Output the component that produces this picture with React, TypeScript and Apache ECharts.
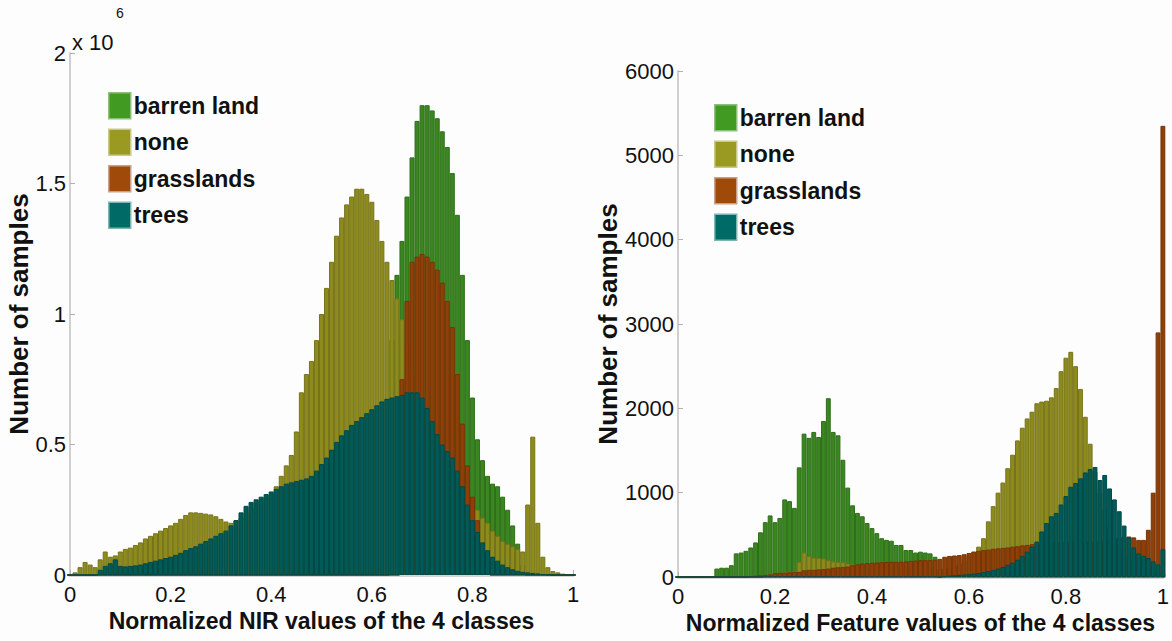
import React, { useEffect, useRef } from 'react';
import * as echarts from 'echarts';

const seriesNames = ['barren land', 'none', 'grasslands', 'trees'];
const barColors = ['#3a8620', '#8e8b1d', '#8f3f08', '#005a57'];
const barBorders = ['#2f6e18', '#76731a', '#773406', '#004a48'];
const legendColors = ['#419a22', '#9a9a22', '#a04a0a', '#006a66'];
const legendBorders = ['#8fbf80', '#c9c98a', '#c9a088', '#80b5b2'];

// bin centres 0, 0.01, ..., 1
const binCenters = Array.from({ length: 101 }, (_, i) => String(i / 100));
const xTickLabels = ['0', '0.2', '0.4', '0.6', '0.8', '1'];
const leftYTickLabels = ['0', '0.5', '1', '1.5', '2'];
const rightYTickLabels = ['0', '1000', '2000', '3000', '4000', '5000', '6000'];

// Left panel: NIR values (x 10^6 samples)
const leftBarren = [
  0, 0, 0, 0, 0, 0, 0, 0, 0, 0,
  0, 0, 0, 0, 0, 0, 0, 0, 0, 0,
  0, 0, 0, 0, 0, 0, 0, 0, 0, 0,
  0, 0, 0, 0, 0, 0, 0, 0, 0, 0,
  0, 0, 0, 0, 0, 0, 0, 0, 0, 0,
  0, 0, 0, 0, 0, 0, 0, 0, 0, 0,
  0, 0, 0, 0, 0.9, 1.15, 1.28, 1.45, 1.6, 1.74,
  1.8, 1.8, 1.78, 1.75, 1.7, 1.64, 1.54, 1.38, 1.15, 0.9,
  0.68, 0.52, 0.44, 0.38, 0.35, 0.34, 0.3, 0.25, 0.19, 0.12,
  0.04, 0, 0, 0, 0, 0, 0, 0, 0, 0, 0,
];
const leftNone = [
  0, 0.01, 0.03, 0.05, 0.04, 0.03, 0.06, 0.09, 0.07, 0.075,
  0.09, 0.1, 0.105, 0.115, 0.125, 0.14, 0.15, 0.16, 0.17, 0.18,
  0.19, 0.2, 0.215, 0.23, 0.24, 0.24, 0.238, 0.235, 0.232, 0.225,
  0.215, 0.205, 0.2, 0.21, 0.22, 0.24, 0.26, 0.28, 0.29, 0.3,
  0.31, 0.34, 0.38, 0.42, 0.46, 0.55, 0.7, 0.77, 0.82, 0.9,
  1.0, 1.1, 1.2, 1.3, 1.37, 1.42, 1.45, 1.48, 1.48, 1.46,
  1.43, 1.36, 1.28, 1.2, 1.13, 1.06, 0.98, 0.88, 0.78, 0.68,
  0.6, 0.52, 0.46, 0.41, 0.37, 0.34, 0.32, 0.3, 0.28, 0.27,
  0.26, 0.25, 0.22, 0.2, 0.17, 0.15, 0.13, 0.12, 0.11, 0.1,
  0.09, 0.27, 0.53, 0.2, 0.07, 0.03, 0.015, 0.01, 0.005, 0, 0,
];
const leftGrass = [
  0, 0, 0, 0, 0, 0, 0, 0, 0, 0,
  0, 0, 0, 0, 0, 0, 0, 0, 0, 0,
  0, 0, 0, 0, 0, 0, 0, 0, 0, 0,
  0, 0, 0, 0, 0, 0, 0, 0, 0, 0,
  0, 0, 0, 0, 0, 0, 0, 0, 0, 0,
  0, 0, 0, 0, 0, 0, 0, 0, 0, 0,
  0, 0, 0, 0, 0, 0, 0.75, 1.05, 1.2, 1.22,
  1.23, 1.22, 1.2, 1.17, 1.12, 1.05, 0.95, 0.77, 0.58, 0.42,
  0.3, 0.21, 0.1, 0.03, 0, 0, 0, 0, 0, 0,
  0, 0, 0, 0, 0, 0, 0, 0, 0, 0, 0,
];
const leftTrees = [
  0, 0, 0, 0, 0, 0, 0.02, 0.035, 0.045, 0.06,
  0.035, 0.033, 0.035, 0.037, 0.04, 0.045, 0.05, 0.055, 0.06, 0.065,
  0.07, 0.077, 0.085, 0.095, 0.103, 0.11, 0.12, 0.13, 0.14, 0.15,
  0.16, 0.17, 0.19, 0.21, 0.24, 0.265, 0.28, 0.29, 0.3, 0.31,
  0.32, 0.33, 0.34, 0.35, 0.355, 0.36, 0.365, 0.37, 0.38, 0.4,
  0.425, 0.45, 0.48, 0.51, 0.535, 0.555, 0.575, 0.59, 0.605, 0.62,
  0.635, 0.65, 0.665, 0.675, 0.68, 0.685, 0.69, 0.7, 0.7, 0.7,
  0.68, 0.64, 0.59, 0.54, 0.5, 0.475, 0.45, 0.4, 0.34, 0.27,
  0.21, 0.165, 0.125, 0.095, 0.07, 0.055, 0.04, 0.03, 0.022, 0.016,
  0.012, 0.01, 0.008, 0.006, 0.004, 0.002, 0, 0, 0, 0, 0,
];

// Right panel: Feature values (samples)
const rightBarren = [
  0, 0, 0, 0, 0, 0, 0, 0, 100, 110,
  110, 140, 280, 290, 310, 350, 410, 530, 650, 730,
  650, 700, 920, 900, 820, 1300, 1700, 1650, 1720, 1660,
  1850, 2120, 1720, 1680, 1390, 1060, 850, 760, 720, 640,
  580, 520, 460, 440, 430, 380, 380, 320, 320, 290,
  300, 290, 280, 240, 0, 0, 0, 0, 0, 0,
  0, 0, 0, 0, 0, 0, 0, 0, 0, 0,
  0, 0, 0, 0, 0, 0, 0, 0, 0, 0,
  0, 0, 0, 0, 0, 0, 0, 0, 0, 0,
  0, 0, 0, 0, 0, 0, 0, 0, 0, 0, 0,
];
const rightNone = [
  0, 0, 0, 0, 0, 0, 0, 0, 0, 0,
  0, 0, 0, 0, 0, 0, 0, 0, 20, 30,
  40, 50, 55, 60, 70, 180, 290, 250, 230, 225,
  220, 200, 185, 180, 175, 160, 150, 140, 130, 120,
  110, 100, 100, 100, 100, 100, 100, 100, 100, 100,
  100, 100, 100, 100, 100, 100, 110, 130, 160, 200,
  250, 300, 360, 460, 660, 840, 1000, 1120, 1290, 1450,
  1620, 1770, 1880, 1960, 2060, 2080, 2090, 2130, 2240, 2440,
  2600, 2670, 2500, 2230, 1900, 1580, 1250, 1000, 800, 600,
  450, 350, 280, 220, 180, 150, 120, 100, 80, 60, 40,
];
const rightGrass = [
  0, 0, 0, 0, 0, 0, 0, 0, 0, 0,
  0, 0, 0, 0, 0, 10, 15, 20, 25, 30,
  45, 50, 50, 55, 60, 60, 80, 85, 85, 90,
  95, 100, 110, 115, 120, 125, 140, 150, 160, 165,
  170, 172, 175, 178, 180, 180, 182, 185, 190, 195,
  200, 200, 200, 205, 215, 240, 250, 255, 260, 270,
  285, 300, 310, 320, 325, 335, 340, 345, 350, 360,
  365, 375, 380, 390, 400, 400, 410, 420, 420, 420,
  420, 420, 420, 420, 420, 420, 420, 430, 440, 450,
  460, 470, 480, 480, 470, 440, 440, 560, 1000, 2900, 5350,
];
const rightTrees = [
  0, 0, 0, 0, 0, 0, 0, 0, 0, 0,
  0, 0, 0, 0, 0, 0, 0, 0, 0, 0,
  0, 0, 0, 0, 0, 0, 0, 0, 0, 0,
  0, 0, 0, 0, 0, 0, 0, 0, 0, 0,
  0, 0, 0, 0, 0, 0, 0, 0, 0, 0,
  0, 0, 0, 0, 0, 10, 15, 20, 25, 30,
  35, 40, 47, 60, 70, 83, 100, 120, 145, 170,
  205, 250, 300, 360, 420, 540, 640, 720, 760, 860,
  960, 1070, 1115, 1170, 1240, 1280, 1305, 1150, 1210, 1050,
  920, 780, 610, 470, 350, 280, 250, 225, 185, 150, 330,
];

const leftData = [leftBarren, leftNone, leftGrass, leftTrees];
const rightData = [rightBarren, rightNone, rightGrass, rightTrees];

const FONT = '"Liberation Sans", Arial, Helvetica, sans-serif';
const TEXT = '#111111';

function makeXAxis(gridIndex: number, name: string) {
  return {
    type: 'category',
    gridIndex,
    data: binCenters,
    boundaryGap: false,
    axisLine: { show: true, lineStyle: { color: '#d6d6d6', width: 3 } },
    axisTick: { show: true, inside: true, interval: 19, length: 5, lineStyle: { color: '#b0b0b0', width: 1 } },
    axisLabel: {
      interval: 19,
      formatter: (v: string, i: number) => xTickLabels[Math.round(i / 20)] ?? v,
      color: TEXT,
      fontSize: 22,
      fontFamily: FONT,
      margin: 8,
    },
    splitLine: { show: false },
    name,
    nameLocation: 'middle',
    nameGap: 34,
    nameTextStyle: { color: TEXT, fontSize: 23, fontWeight: 'bold', fontFamily: FONT },
  };
}

function makeYAxis(gridIndex: number, max: number, interval: number, labels: string[], nameGap: number) {
  return {
    type: 'value',
    gridIndex,
    min: 0,
    max,
    interval,
    axisLine: { show: true, lineStyle: { color: '#d0d0d0', width: 2 } },
    axisTick: { show: true, inside: true, length: 5, lineStyle: { color: '#b0b0b0', width: 1 } },
    axisLabel: {
      formatter: (v: number) => labels[Math.round(v / interval)] ?? String(v),
      color: TEXT,
      fontSize: 22,
      fontFamily: FONT,
      margin: 4,
    },
    splitLine: { show: false },
    name: 'Number of samples',
    nameLocation: 'middle',
    nameRotate: 90,
    nameGap,
    nameTextStyle: { color: TEXT, fontSize: 26, fontWeight: 'bold', fontFamily: FONT },
  };
}

function makeSeries(data: number[][], axisIndex: number) {
  return seriesNames.map((name, k) => ({
    name,
    type: 'bar',
    xAxisIndex: axisIndex,
    yAxisIndex: axisIndex,
    data: data[k],
    barWidth: '100%',
    barGap: '-100%',
    barCategoryGap: '0%',
    clip: true,
    itemStyle: { color: barColors[k], borderColor: barBorders[k], borderWidth: 1 },
    emphasis: { disabled: true },
  }));
}

const legendData = seriesNames.map((name, k) => ({
  name,
  itemStyle: { color: legendColors[k], borderColor: legendBorders[k], borderWidth: 1.5 },
}));

function makeLegend(left: number, top: number) {
  return {
    orient: 'vertical',
    left,
    top,
    itemWidth: 22,
    itemHeight: 26,
    itemGap: 9,
    icon: 'rect',
    selectedMode: false,
    data: legendData,
    textStyle: { color: TEXT, fontSize: 23, fontWeight: 'bold', fontFamily: FONT, padding: [0, 0, 0, -2] },
  };
}

export default function App() {
  const ref = useRef<HTMLDivElement>(null);
  useEffect(() => {
    if (!ref.current) return;
    const chart = echarts.init(ref.current, undefined, { renderer: 'svg' });
    chart.setOption({
      animation: false,
      backgroundColor: '#fdfdfd',
      grid: [
        { left: 70, top: 53, width: 503, height: 522 },
        { left: 678, top: 71, width: 490, height: 506 },
      ],
      xAxis: [
        makeXAxis(0, 'Normalized NIR values of the 4 classes'),
        makeXAxis(1, 'Normalized Feature values of the 4 classes'),
      ],
      yAxis: [
        makeYAxis(0, 2, 0.5, leftYTickLabels, 37),
        makeYAxis(1, 6000, 1000, rightYTickLabels, 52),
      ],
      legend: [makeLegend(103, 87), makeLegend(709, 99)],
      series: [...makeSeries(leftData, 0), ...makeSeries(rightData, 1)],
      graphic: [
        { type: 'text', left: 72, top: 31, style: { text: 'x 10', fill: TEXT, font: `22px ${FONT}` } },
        { type: 'text', left: 116, top: 6, style: { text: '6', fill: TEXT, font: `14px ${FONT}` } },
      ],
    });
    return () => chart.dispose();
  }, []);
  return (
    <div
      ref={ref}
      style={{ position: 'absolute', left: 0, top: 0, width: 1172, height: 641 }}
    />
  );
}
